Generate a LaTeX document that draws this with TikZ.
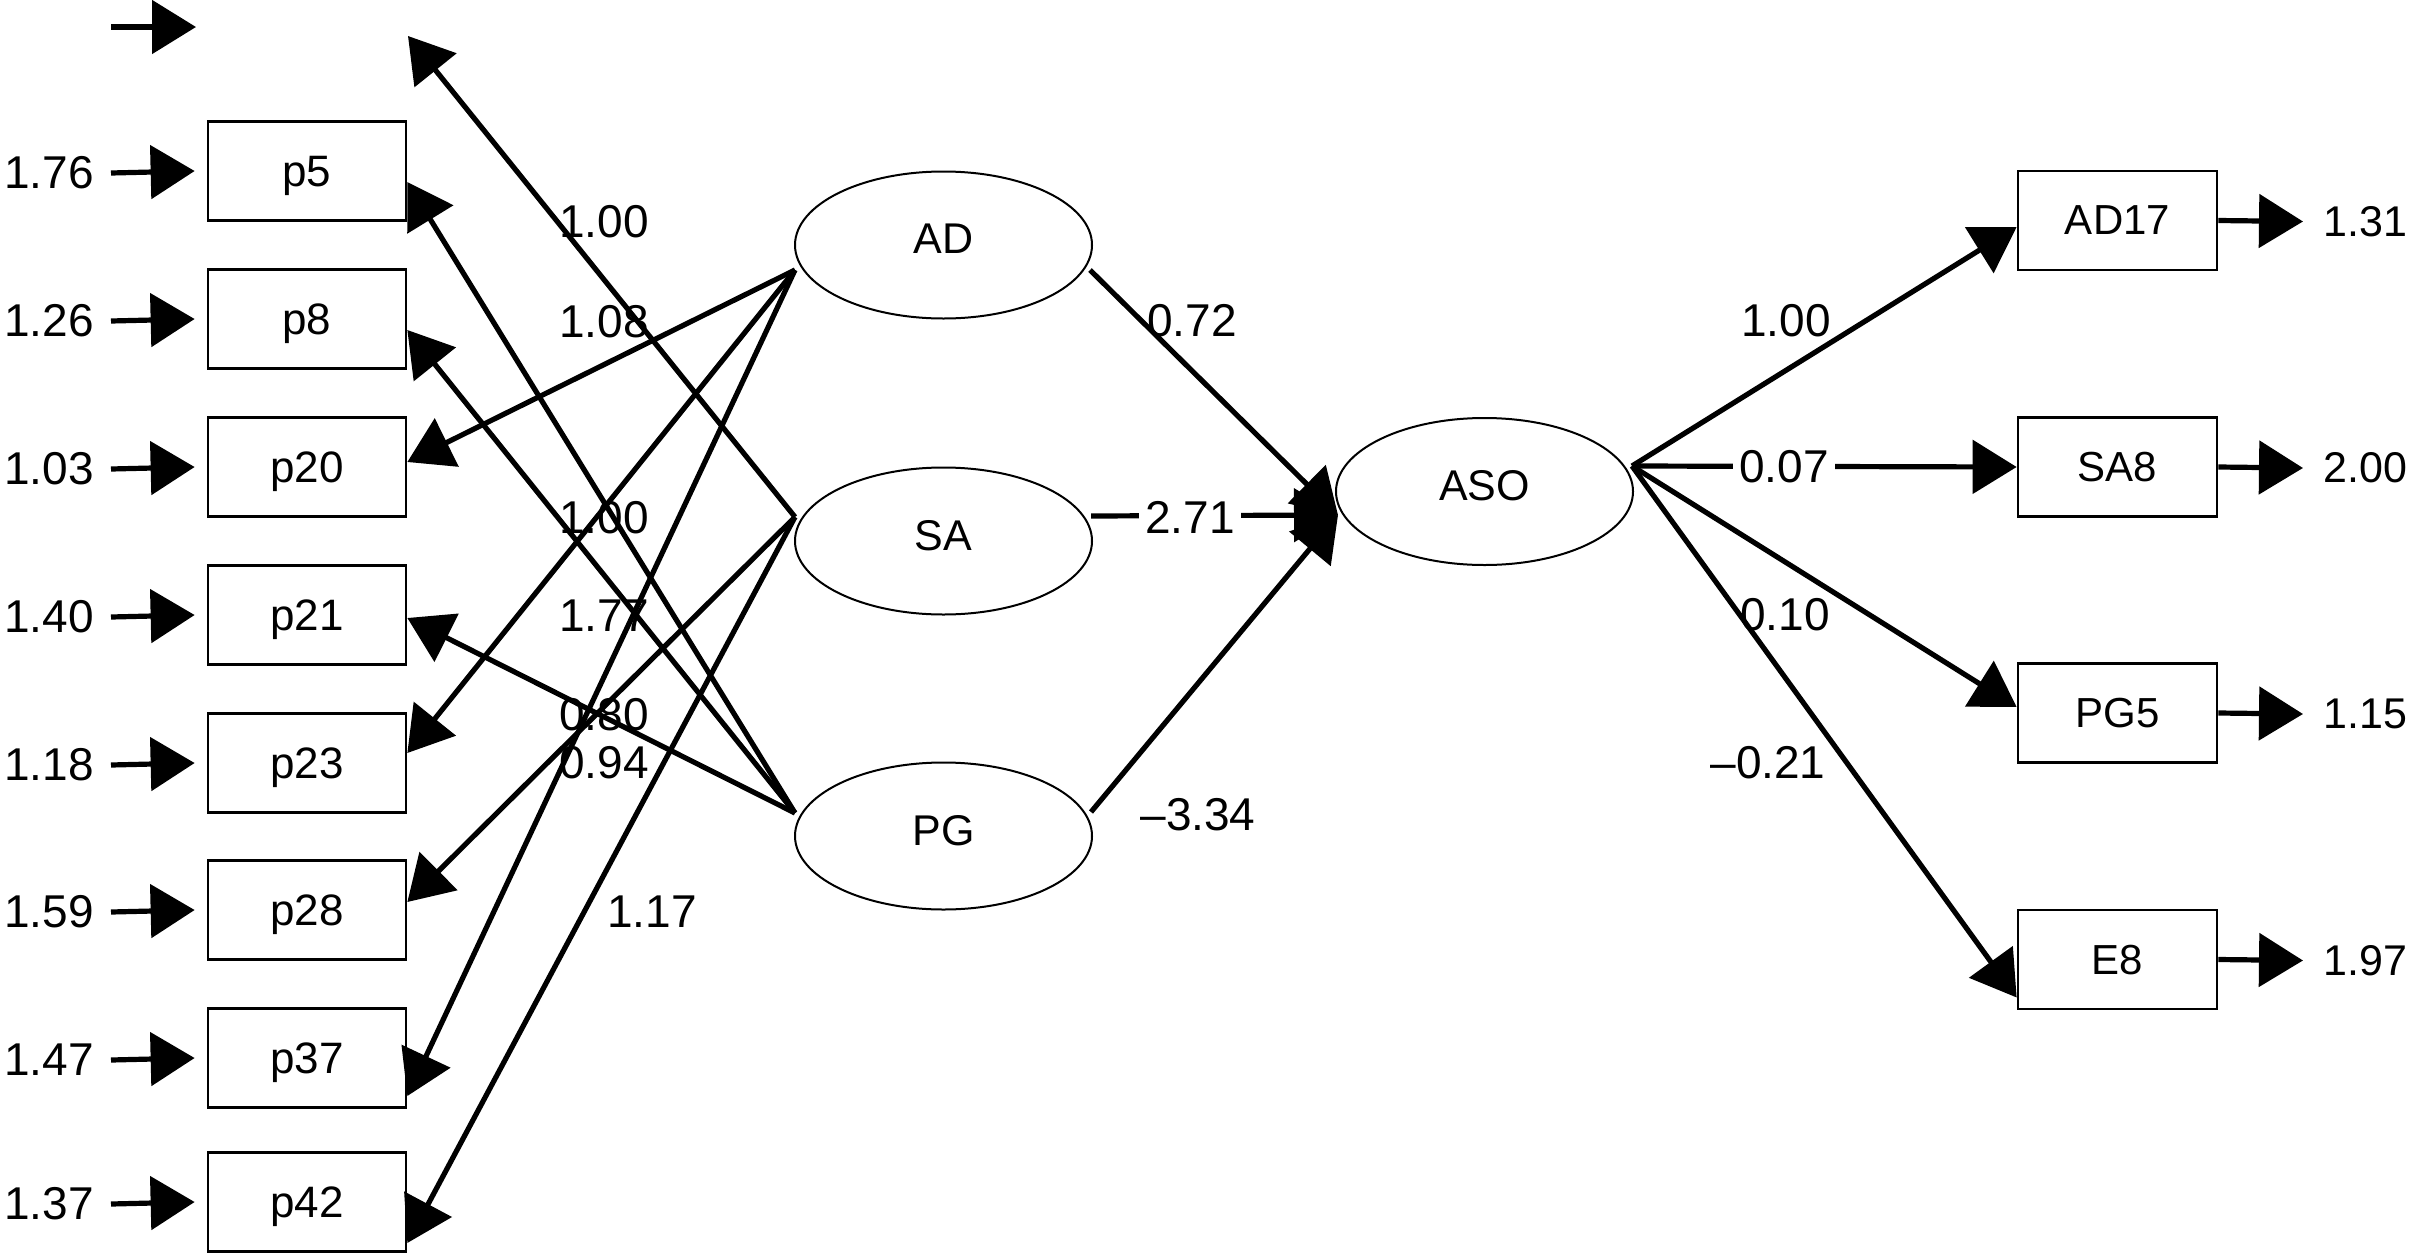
\documentclass[tikz,border=0pt]{standalone}
\usepackage{fontspec}
\setmainfont{Liberation Sans}
\usetikzlibrary{arrows.meta,calc,shapes.geometric}
\begin{document}
\begin{tikzpicture}[x=0.5pt,y=-0.5pt,
  box/.style={draw,line width=1.35pt,minimum width=99pt,minimum height=49.5pt,inner sep=0pt,text depth=0pt,font=\fontsize{22}{24}\selectfont},
  rbox/.style={box,font=\fontsize{21}{23}\selectfont},
  lat/.style={draw,ellipse,line width=1pt,minimum width=148.5pt,minimum height=73.5pt,inner sep=0pt,text depth=6pt,font=\fontsize{21.5}{23}\selectfont},
  num/.style={inner sep=0pt,font=\fontsize{23}{25}\selectfont},
  rnum/.style={inner sep=0pt,font=\fontsize{21.5}{23}\selectfont},
  arr/.style={line width=2.6pt,-{Triangle[length=22pt,width=26.5pt]}},
  gap/.style={fill=white,inner xsep=3pt,inner ysep=1pt}
]
\useasboundingbox (0,0) rectangle (2416,1253);

% left indicator boxes with error terms
\foreach \n/\y/\v in {p5/171/1.76, p8/319/1.26, p20/467/1.03, p21/615/1.40,
                      p23/763/1.18, p28/910/1.59, p37/1058/1.47, p42/1202/1.37} {
  \node[box] (\n) at (307,\y) {\n};
  \node[num,anchor=east] (e\n) at (94,\y+2) {\v};
  \draw[arr] ($(e\n.east)+(17,0)$) -- ($(\n.west)+(-12,0)$);
}

% top (cut-off) indicator
\coordinate (t0a) at (111,27);
\coordinate (t0b) at (196,27);
\coordinate (t0) at (408,36);
\draw[arr] (t0a) -- (t0b);

% latent variables
\node[lat] (AD) at (943.5,245) {AD};
\node[lat] (SA) at (943.5,541) {SA};
\node[lat] (PG) at (943.5,836) {PG};
\node[lat] (ASO) at (1484.5,491.5) {ASO};

\coordinate (ADl) at ($(AD.center)+(-148.5,25)$);
\coordinate (SAl) at ($(SA.center)+(-148.5,-24)$);
\coordinate (PGl) at ($(PG.center)+(-148.5,-23)$);
\coordinate (ADr) at ($(AD.center)+(146.5,25)$);
\coordinate (SAr) at ($(SA.center)+(147.5,-25)$);
\coordinate (PGr) at ($(PG.center)+(147.5,-24)$);
\coordinate (ASOl) at ($(ASO.center)+(-146.5,23.5)$);
\coordinate (ASOr) at ($(ASO.center)+(147.5,-25.5)$);

% loadings to left indicators
\draw[arr] (SAl) -- (t0);
\draw[arr] (PGl) -- ($(p5.east)+(0,11)$);
\draw[arr] (PGl) -- ($(p8.east)+(0,11)$);
\draw[arr] (ADl) -- ($(p20.east)+(0,-5)$);
\draw[arr] (PGl) -- ($(p21.east)+(0,3)$);
\draw[arr] (ADl) -- ($(p23.east)+(0,-10)$);
\draw[arr] (SAl) -- ($(p28.east)+(0,-8)$);
\draw[arr] (ADl) -- ($(p37.east)+(0,38)$);
\draw[arr] (SAl) -- ($(p42.east)+(0,41)$);

\node[num] (l1) at (604,222) {1.00};
\node[num] (l2) at (604,322) {1.08};
\node[num] (l3) at (604,518) {1.00};
\node[num] (l4) at (604,616) {1.77};
\node[num] (l5) at (604,715) {0.80};
\node[num] (l6) at (604,763) {0.94};
\node[num] (l7) at (652,912) {1.17};

% structural paths
\draw[arr] (ADr) -- (ASOl);
\draw[arr] (SAr) -- (ASOl);
\draw[arr] (PGr) -- (ASOl);
\node[num] (s1) at (1192,321) {0.72};
\node[num,gap] (s2) at (1190,517) {2.71};
\node[num] (s3) at (1198,815) {\textendash3.34};

% right indicators
\foreach \n/\y/\v in {AD17/220.5/1.31, SA8/467/2.00, PG5/713/1.15, E8/959.5/1.97} {
  \node[rbox,minimum width=99.5pt] (\n) at (2117.5,\y) {\n};
  \node[rnum,anchor=west] (r\n) at (2323,\y+1) {\v};
  \draw[arr] (\n.east) -- ($(r\n.west)+(-20,0)$);
}

\draw[arr] (ASOr) -- ($(AD17.west)+(0,6.5)$);
\draw[arr] (ASOr) -- (SA8.west);
\draw[arr] (ASOr) -- ($(PG5.west)+(0,-6)$);
\draw[arr] (ASOr) -- ($(E8.west)+(0,38)$);

\node[num] (q1) at (1786,321) {1.00};
\node[num,gap] (q2) at (1784,467) {0.07};
\node[num] (q3) at (1785,615) {0.10};
\node[num] (q4) at (1768,763) {\textendash0.21};
\end{tikzpicture}
\end{document}
